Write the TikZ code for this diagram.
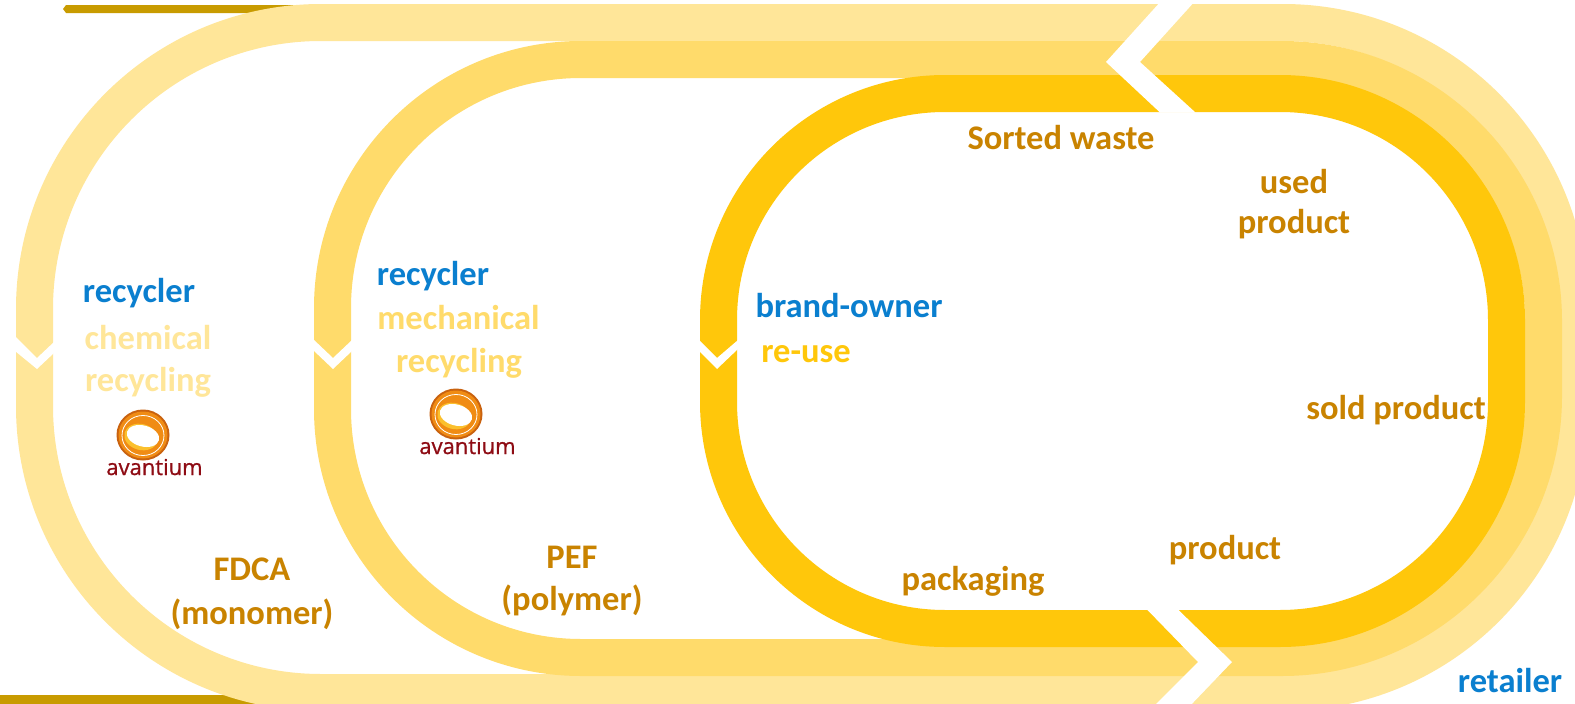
\documentclass[tikz,border=0pt]{standalone}
\usepackage{fontspec}
\setmainfont{Carlito}
\newfontfamily\logofont[FakeBold=0.8]{Open Sans}
\definecolor{ringa}{HTML}{FFE699}
\definecolor{ringb}{HTML}{FFDB6B}
\definecolor{ringc}{HTML}{FFC70B}
\definecolor{barc}{HTML}{C89B00}
\definecolor{labo}{HTML}{C98300}
\definecolor{labb}{HTML}{0A7FCF}
\definecolor{logor}{HTML}{8E0C14}
\definecolor{logoo}{HTML}{F08C14}
\definecolor{logod}{HTML}{C9620F}
\definecolor{logoy}{HTML}{FBC02D}
\tikzset{
  ringpath/.style={line width=37pt,draw=#1,line join=round},
  cut/.style={fill=white,draw=none},
  lab/.style={inner sep=0pt,outer sep=0pt,anchor=base,font=\fontsize{34.5}{40}\selectfont\bfseries,text=#1},
  logotext/.style={inner sep=0pt,anchor=base,font=\fontsize{22}{26}\selectfont\logofont,text=logor}
}
% left, top, right, bottom, left radius, right radius, colour
\newcommand{\ringshape}[7]{%
  \pgfmathsetmacro{\ka}{#5*0.4477}%
  \pgfmathsetmacro{\kb}{#6*0.4477}%
  \draw[ringpath=#7] (#1+#5,#2) -- (#3-#6,#2)
    .. controls (#3-\kb,#2) and (#3,#2+\kb) .. (#3,#2+#6)
    -- (#3,#4-#6)
    .. controls (#3,#4-\kb) and (#3-\kb,#4) .. (#3-#6,#4)
    -- (#1+#5,#4)
    .. controls (#1+\ka,#4) and (#1,#4-\ka) .. (#1,#4-#5)
    -- (#1,#2+#5)
    .. controls (#1,#2+\ka) and (#1+\ka,#2) .. (#1+#5,#2) -- cycle;
}
\newcommand{\avlogo}[3]{%
  \fill[logod] (#1,#2) ellipse [x radius=26.5,y radius=25.5];
  \fill[logoo] (#1,#2) ellipse [x radius=24.5,y radius=23.5];
  \draw[white,line width=0.8pt] (#1,#2+0.5) ellipse [x radius=21,y radius=20];
  \fill[logoy,rotate around={-15:(#1-2,#2+2)}] (#1-2,#2+2) ellipse [x radius=17,y radius=13];
  \fill[white,rotate around={-15:(#1,#2+1)}] (#1,#2+1) ellipse [x radius=16.5,y radius=10.5];
  \node[logotext] (#3) at (#1+11.5,#2+40) {avantium};
}
\begin{document}
\begin{tikzpicture}[x=1pt,y=-1pt]
\path[use as bounding box] (0,0) rectangle (1575,704);
\clip (0,0) rectangle (1575,704);
\fill[white] (0,0) rectangle (1575,704);
% gold bars behind the outer ring
\fill[barc] (63,9) -- (66,5) -- (320,5) -- (320,13) -- (66,13) -- cycle;
\fill[barc] (0,695) rectangle (320,704);
% rings
\ringshape{34.5}{22.5}{1569.5}{692.5}{286.5}{286.5}{ringa}
\ringshape{332.5}{59.5}{1543.5}{657.5}{248.5}{261.5}{ringb}
\ringshape{718.5}{93.5}{1506.5}{628.5}{226.5}{226.5}{ringc}
% chevron cuts
\fill[cut] (1162,0) -- (1106,62) -- (1160,112.5) -- (1195.5,112.5) -- (1140,62) -- (1196,0) -- cycle;
\fill[cut] (1147,609.5) -- (1198,662) -- (1152,708) -- (1188,708) -- (1232,662) -- (1178,609.5) -- cycle;
\fill[cut] (15,336) -- (37,358) -- (54,342) -- (54,353) -- (37,369) -- (15,351) -- cycle;
\fill[cut] (313,339) -- (333,358) -- (352,340) -- (352,351) -- (333,369) -- (313,350) -- cycle;
\fill[cut] (699,340) -- (717,358) -- (738,340) -- (738,349) -- (717,369) -- (699,351) -- cycle;
% labels
\node[lab=labo] (waste) at (1061,149) {Sorted waste};
\node[lab=labo] (used) at (1294,193) {used};
\node[lab=labo] (usedp) at (1294,233) {product};
\node[lab=labo] (sold) at (1396,419) {sold product};
\node[lab=labo] (prod) at (1225,559) {product};
\node[lab=labo] (pack) at (973,590) {packaging};
\node[lab=labb] (brand) at (849,317) {brand-owner};
\node[lab=ringc] (reuse) at (806,362) {re-use};
\node[lab=labb] (retail) at (1510,692) {retailer};
\node[lab=labo] (fdca) at (252,580) {FDCA};
\node[lab=labo] (mono) at (252,624) {(monomer)};
\node[lab=labo] (pef) at (572,568) {PEF};
\node[lab=labo] (poly) at (572,610) {(polymer)};
\node[lab=labb] (reca) at (139,302) {recycler};
\node[lab=ringa] (chem) at (148,349) {chemical};
\node[lab=ringa] (recb) at (148,391) {recycling};
\node[lab=labb] (recc) at (433,285) {recycler};
\node[lab=ringb] (mech) at (458.5,329) {mechanical};
\node[lab=ringb] (recd) at (459,372) {recycling};
\avlogo{143}{435}{logoa}
\avlogo{456}{414}{logob}
\end{tikzpicture}
\end{document}
